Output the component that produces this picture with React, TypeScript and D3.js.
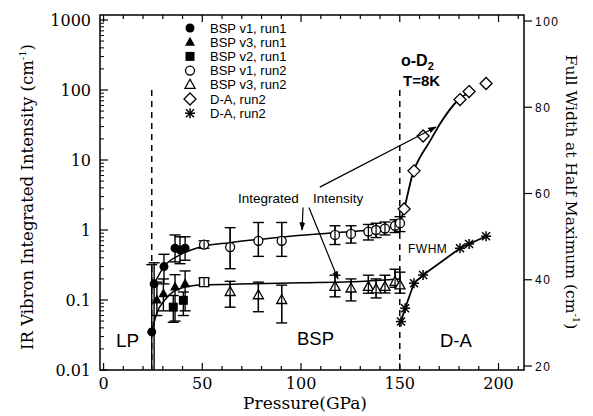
import React from 'react';
import * as d3 from 'd3';

const W = 593, H = 416;
const left = 100, right = 524, top = 15, bottom = 370;

// BSP v1, run1 (filled circles)
const v1r1P = [24.4, 25.6, 30.6, 36.2, 38.7, 41.3];
const v1r1I = [0.035, 0.17, 0.30, 0.55, 0.52, 0.55];
const v1r1Lo = [0.005, 0.005, 0.17, 0.35, 0.33, 0.37];
const v1r1Hi = [0.32, 0.34, 0.45, 0.85, 0.8, 0.8];
// BSP v3, run1 (filled triangles)
const v3r1P = [27.0, 30.3, 36.2, 41.3];
const v3r1I = [0.10, 0.123, 0.153, 0.17];
const v3r1Lo = [0.06, 0.07, 0.05, 0.07];
const v3r1Hi = [0.18, 0.2, 0.23, 0.26];
// BSP v2, run1 (filled squares)
const v2r1P = [35.3, 40.4];
const v2r1I = [0.079, 0.099];
const v2r1Lo = [0.048, 0.06];
const v2r1Hi = [0.116, 0.13];
// BSP v1, run2 (open circles)
const v1r2P = [50.9, 64.1, 78.4, 90.2, 117.2, 125.3, 134.1, 138.0, 142.5, 147.6, 150.1];
const v1r2I = [0.62, 0.57, 0.7, 0.7, 0.85, 0.88, 0.95, 1.0, 1.05, 1.15, 1.25];
const v1r2Lo = [0.55, 0.28, 0.42, 0.42, 0.62, 0.65, 0.72, 0.78, 0.85, 0.92, 0.95];
const v1r2Hi = [0.7, 1.08, 1.28, 1.28, 1.15, 1.15, 1.2, 1.25, 1.3, 1.4, 1.55];
// BSP v2, run2 (open square, no legend entry)
const v2r2P = [50.9];
const v2r2I = [0.18];
const v2r2Lo = [0.16];
const v2r2Hi = [0.205];
// BSP v3, run2 (open triangles)
const v3r2P = [64.1, 78.4, 90.2, 117.2, 125.3, 134.1, 138.0, 142.5, 147.6, 150.1];
const v3r2I = [0.13, 0.117, 0.1, 0.154, 0.146, 0.154, 0.142, 0.154, 0.182, 0.162];
const v3r2Lo = [0.079, 0.068, 0.047, 0.111, 0.097, 0.125, 0.107, 0.126, 0.152, 0.125];
const v3r2Hi = [0.185, 0.18, 0.163, 0.226, 0.2, 0.226, 0.2, 0.226, 0.275, 0.25];
// D-A, run2 (diamonds, intensity)
const daP = [152.2, 157.2, 161.8, 180.5, 185.1, 193.7];
const daI = [2.0, 7.0, 22, 73, 95, 124];
// D-A, run2 (stars, FWHM right axis)
const fwP = [150.6, 152.7, 157.2, 161.8, 180.5, 185.1, 193.7];
const fwV = [30.3, 33.4, 39.2, 41.1, 47.3, 48.3, 50.1];

// guide curves
const upperFitP = [25.6, 30.6, 38.7, 49, 64, 80, 100, 125, 145, 150.1];
const upperFitI = [0.17, 0.30, 0.44, 0.57, 0.66, 0.74, 0.84, 0.95, 1.08, 1.25];
const lowerFitP = [24.4, 27, 31, 35, 38.7, 50, 75, 100, 125, 150.1];
const lowerFitI = [0.035, 0.065, 0.1, 0.13, 0.146, 0.165, 0.17, 0.176, 0.182, 0.2];
const daFitP = [150.3, 152.2, 157.0, 160.3, 165, 170.4, 179.6, 187.5];
const daFitI = [1.3, 2.0, 7.0, 11, 18, 33, 72, 100];

const phaseBounds = [24.4, 150];
const xTickVals = [0, 50, 100, 150, 200];
const yTickVals = [0.01, 0.1, 1, 10, 100, 1000];
const yTickLabels = ['0.01', '0.1', '1', '10', '100', '1000'];
const rTickVals = [20, 40, 60, 80, 100];

const legendNames = ['BSP v1, run1', 'BSP v3, run1', 'BSP v2, run1', 'BSP v1, run2', 'BSP v3, run2', 'D-A,  run2', 'D-A,  run2'];
const legendMarks = ['circleF', 'triF', 'squareF', 'circleO', 'triO', 'diamond', 'star'];

const x = d3.scaleLinear().domain([-1.8, 212.9]).range([left, right]);
const y = d3.scaleLog().domain([0.01, 1000]).range([bottom, 20]);
const yr = d3.scaleLinear().domain([20, 100]).range([366, 21]);

const sans = 'Liberation Sans, Arial, sans-serif';
const serif = 'DejaVu Serif, serif';

function Marker({ type, cx, cy }: { type: string; cx: number; cy: number }) {
  const s = 1.3;
  switch (type) {
    case 'circleF':
      return <circle cx={cx} cy={cy} r={4.5} fill="#000" />;
    case 'circleO':
      return <circle cx={cx} cy={cy} r={4.5} fill="#fff" stroke="#000" strokeWidth={s} />;
    case 'triF':
      return <path d={`M${cx},${cy - 5.5}L${cx + 5},${cy + 3.5}L${cx - 5},${cy + 3.5}Z`} fill="#000" />;
    case 'triO':
      return <path d={`M${cx},${cy - 5.5}L${cx + 5},${cy + 3.5}L${cx - 5},${cy + 3.5}Z`} fill="#fff" stroke="#000" strokeWidth={s} />;
    case 'squareF':
      return <rect x={cx - 4.5} y={cy - 4.5} width={9} height={9} fill="#000" />;
    case 'squareO':
      return <rect x={cx - 4.5} y={cy - 4.5} width={9} height={9} fill="#fff" stroke="#000" strokeWidth={s} />;
    case 'diamond':
      return <path d={`M${cx},${cy - 6}L${cx + 6},${cy}L${cx},${cy + 6}L${cx - 6},${cy}Z`} fill="#fff" stroke="#000" strokeWidth={s} />;
    case 'star':
      return (
        <g stroke="#000" strokeWidth={1.5}>
          <line x1={cx - 5} x2={cx + 5} y1={cy} y2={cy} />
          <line x1={cx} x2={cx} y1={cy - 5} y2={cy + 5} />
          <line x1={cx - 4} x2={cx + 4} y1={cy - 4} y2={cy + 4} />
          <line x1={cx - 4} x2={cx + 4} y1={cy + 4} y2={cy - 4} />
        </g>
      );
  }
  return null;
}

export default function App() {
  const series = [
    { mark: 'circleF', p: v1r1P, v: v1r1I, lo: v1r1Lo, hi: v1r1Hi },
    { mark: 'triF', p: v3r1P, v: v3r1I, lo: v3r1Lo, hi: v3r1Hi },
    { mark: 'squareF', p: v2r1P, v: v2r1I, lo: v2r1Lo, hi: v2r1Hi },
    { mark: 'circleO', p: v1r2P, v: v1r2I, lo: v1r2Lo, hi: v1r2Hi },
    { mark: 'squareO', p: v2r2P, v: v2r2I, lo: v2r2Lo, hi: v2r2Hi },
    { mark: 'triO', p: v3r2P, v: v3r2I, lo: v3r2Lo, hi: v3r2Hi },
  ];

  const logLine = d3.line<number[]>().x(d => x(d[0])).y(d => y(d[1])).curve(d3.curveMonotoneX);
  const fwLine = d3.line<number[]>().x(d => x(d[0])).y(d => yr(d[1]));
  const zip = (a: number[], b: number[]) => a.map((p, i) => [p, b[i]]);

  const minorX = d3.range(0, 211, 10);
  const minorY: number[] = [];
  for (let e = -2; e < 3; e++) for (let k = 2; k < 10; k++) minorY.push(k * Math.pow(10, e));

  return (
    <svg width={W} height={H} style={{ position: 'absolute', left: 0, top: 0, background: '#fff' }}>
      <defs>
        <clipPath id="plot"><rect x={left} y={top} width={right - left} height={bottom - top} /></clipPath>
        <marker id="arr" viewBox="0 0 10 10" refX={9} refY={5} markerWidth={7} markerHeight={7} orient="auto">
          <path d="M0,1.5L10,5L0,8.5Z" fill="#000" />
        </marker>
      </defs>
      <rect x={0} y={0} width={W} height={H} fill="#fff" />

      {/* frame */}
      <rect x={left} y={top} width={right - left} height={bottom - top} fill="none" stroke="#000" strokeWidth={1.5} />

      {/* x ticks bottom + top */}
      {minorX.map(t => {
        const major = t % 50 === 0;
        const len = major ? 7 : 4;
        return (
          <g key={'xt' + t} stroke="#000" strokeWidth={1.2}>
            <line x1={x(t)} x2={x(t)} y1={bottom} y2={bottom - len} />
            <line x1={x(t)} x2={x(t)} y1={top} y2={top + len} />
          </g>
        );
      })}
      {xTickVals.map(t => (
        <text key={'xl' + t} x={x(t)} y={389} textAnchor="middle" fontFamily={serif} fontSize={16}>{t}</text>
      ))}
      <text x={305} y={409} textAnchor="middle" fontFamily={serif} fontSize={17}>Pressure(GPa)</text>

      {/* left log axis */}
      {yTickVals.map(t => (
        <line key={'yt' + t} x1={left} x2={left + 8} y1={y(t)} y2={y(t)} stroke="#000" strokeWidth={1.2} />
      ))}
      {minorY.map(t => (
        <line key={'ym' + t} x1={left} x2={left + 4} y1={y(t)} y2={y(t)} stroke="#000" strokeWidth={1} />
      ))}
      {yTickVals.map((t, i) => (
        <text key={'yl' + t} x={91} y={y(t) + 6} textAnchor="end" fontFamily={serif} fontSize={16}>{yTickLabels[i]}</text>
      ))}
      <text transform={`translate(33,197) rotate(-90)`} textAnchor="middle" fontFamily={serif} fontSize={16.5}>
        IR Vibron Integrated Intensity (cm<tspan dy={-7} fontSize={10}>-1</tspan><tspan dy={7}>)</tspan>
      </text>

      {/* right linear axis */}
      {rTickVals.map(t => (
        <g key={'rt' + t}>
          <line x1={right} x2={right + 8} y1={yr(t)} y2={yr(t)} stroke="#000" strokeWidth={1.2} />
          <text x={535} y={yr(t) + 4.5} fontFamily={sans} fontSize={12} letterSpacing={1.5}>{t}</text>
        </g>
      ))}
      <text transform={`translate(566,192) rotate(90)`} textAnchor="middle" fontFamily={serif} fontSize={15.5}>
        Full Width at Half Maximum (cm<tspan dy={-7} fontSize={10}>-1</tspan><tspan dy={7}>)</tspan>
      </text>

      <g clipPath="url(#plot)">
        {/* phase boundaries */}
        {phaseBounds.map(b => (
          <line key={'pb' + b} x1={x(b)} x2={x(b)} y1={90} y2={bottom} stroke="#000" strokeWidth={1.5} strokeDasharray="6,5" />
        ))}

        {/* guide curves */}
        <path d={logLine(zip(upperFitP, upperFitI)) || ''} fill="none" stroke="#000" strokeWidth={1.5} />
        <path d={logLine(zip(lowerFitP, lowerFitI)) || ''} fill="none" stroke="#000" strokeWidth={1.5} />
        <path d={logLine(zip(daFitP, daFitI)) || ''} fill="none" stroke="#000" strokeWidth={1.8} />
        <path d={fwLine(zip(fwP, fwV)) || ''} fill="none" stroke="#000" strokeWidth={1.8} />

        {/* error bars */}
        {series.map((s, si) => s.p.map((p, i) => {
          const cx = x(p);
          const y0 = Math.min(y(s.lo[i]), bottom + 5);
          const y1 = y(s.hi[i]);
          return (
            <g key={`e${si}-${i}`} stroke="#000" strokeWidth={1.4}>
              <line x1={cx} x2={cx} y1={y0} y2={y1} />
              <line x1={cx - 5.5} x2={cx + 5.5} y1={y1} y2={y1} />
              {y0 < bottom ? <line x1={cx - 5.5} x2={cx + 5.5} y1={y0} y2={y0} /> : null}
            </g>
          );
        }))}

        {/* markers */}
        {series.map((s, si) => s.p.map((p, i) => (
          <Marker key={`m${si}-${i}`} type={s.mark} cx={x(p)} cy={y(s.v[i])} />
        )))}
        {/* error-bar stroke drawn again over open markers */}
        {series.map((s, si) => s.mark.endsWith('O') ? s.p.map((p, i) => {
          const cx = x(p);
          const y0 = Math.min(y(s.lo[i]), bottom + 5);
          const y1 = y(s.hi[i]);
          return <line key={`eo${si}-${i}`} x1={cx} x2={cx} y1={y0} y2={y1} stroke="#000" strokeWidth={1.2} />;
        }) : null)}
        {daP.map((p, i) => <Marker key={'da' + i} type="diamond" cx={x(p)} cy={y(daI[i])} />)}
        {fwP.map((p, i) => <Marker key={'fw' + i} type="star" cx={x(p)} cy={yr(fwV[i])} />)}
      </g>

      {/* legend */}
      {legendNames.map((n, i) => (
        <g key={'lg' + i}>
          <Marker type={legendMarks[i]} cx={190} cy={28 + i * 14.2} />
          <text x={210} y={28 + i * 14.2 + 4.5} fontFamily={sans} fontSize={13}>{n}</text>
        </g>
      ))}

      {/* annotations */}
      <text x={401} y={66} fontFamily={sans} fontSize={16} fontWeight="bold">o-D<tspan dy={4} fontSize={11}>2</tspan></text>
      <text x={403} y={86} fontFamily={sans} fontSize={15} fontWeight="bold">T=8K</text>
      <text x={238} y={203} fontFamily={sans} fontSize={13.5}>Integrated</text>
      <text x={313} y={203} fontFamily={sans} fontSize={13.5}>Intensity</text>
      <line x1={x(101)} y1={y(2.1)} x2={x(100.5)} y2={y(1.0)} stroke="#000" strokeWidth={1.2} markerEnd="url(#arr)" />
      <line x1={x(104)} y1={y(2.1)} x2={x(118.7)} y2={y(0.2)} stroke="#000" strokeWidth={1.2} markerEnd="url(#arr)" />
      <line x1={x(109.5)} y1={y(4.1)} x2={x(168.3)} y2={y(29.6)} stroke="#000" strokeWidth={1.2} markerEnd="url(#arr)" />
      <text x={408} y={253} fontFamily={sans} fontSize={12} letterSpacing={0.5}>FWHM</text>
      <text x={116} y={347} fontFamily={sans} fontSize={19}>LP</text>
      <text x={297} y={345} fontFamily={sans} fontSize={18.5}>BSP</text>
      <text x={440} y={347} fontFamily={sans} fontSize={18.5}>D-A</text>
    </svg>
  );
}
